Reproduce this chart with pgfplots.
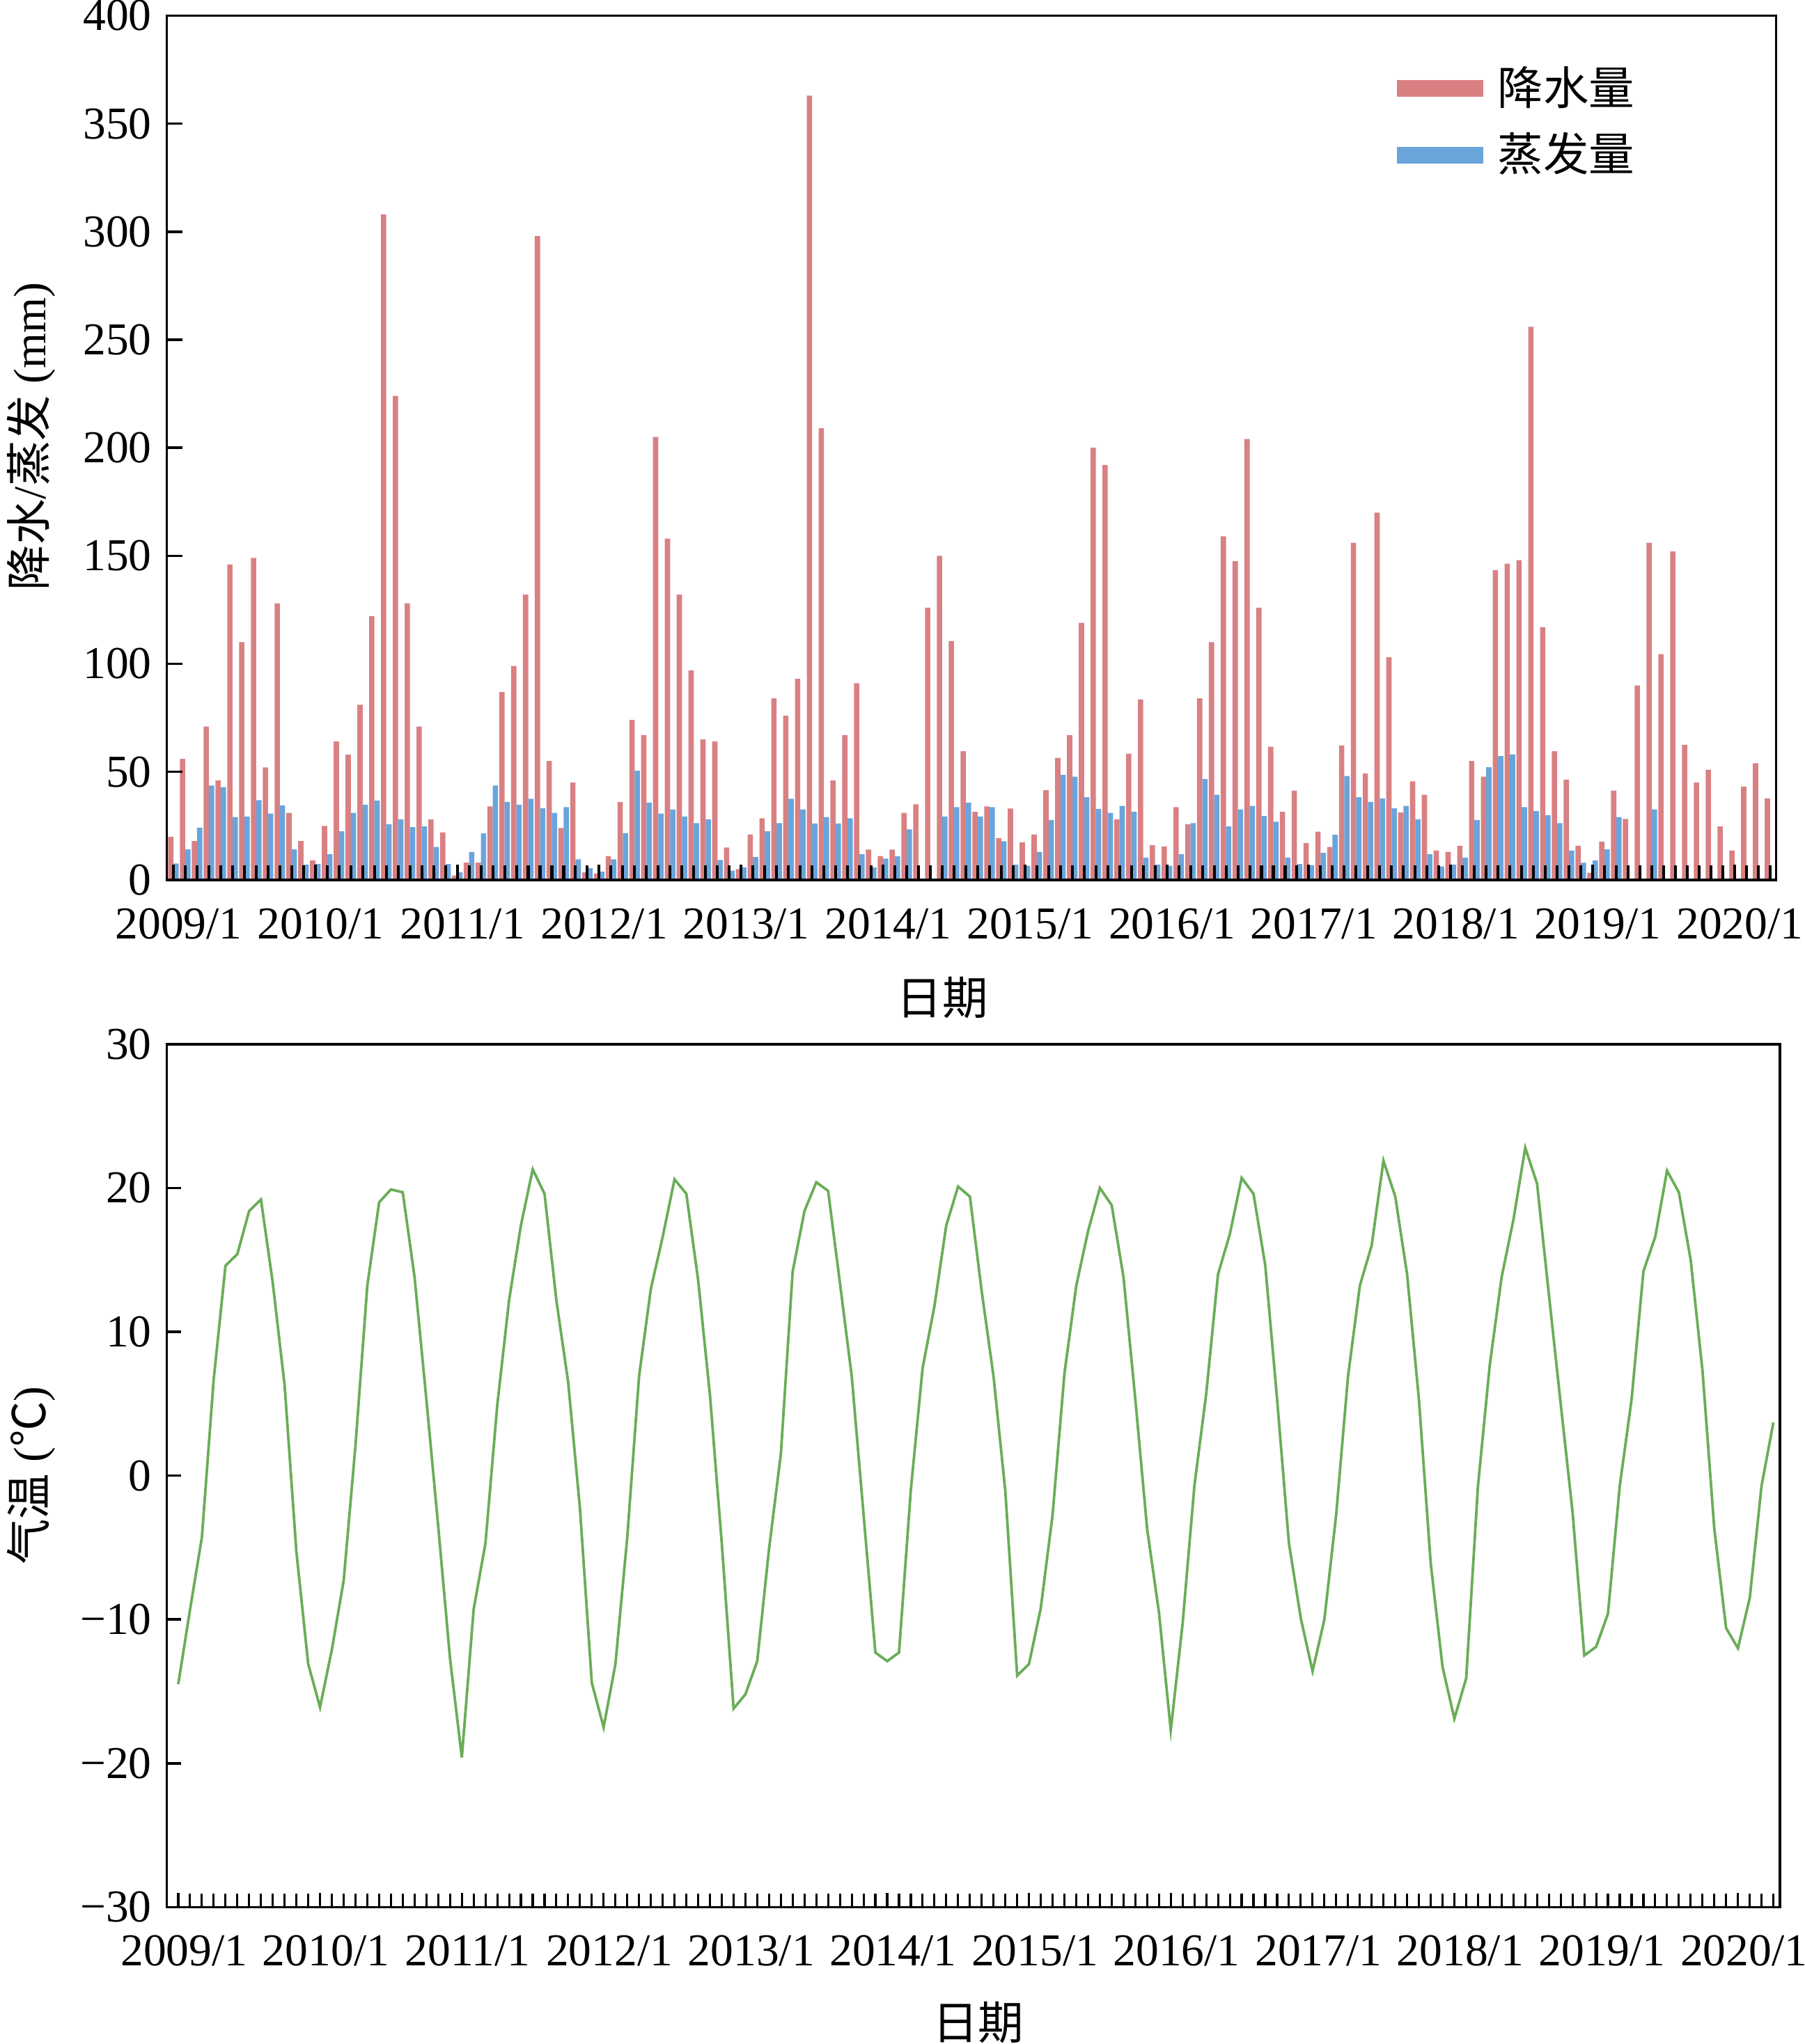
\documentclass[border=0pt]{standalone}
\usepackage{fontspec}
\setmainfont{Liberation Serif}
\newfontfamily\cjk{Noto Sans CJK SC}
\usepackage{pgfplots}
\usepackage{pgfplotstable}
\pgfplotsset{compat=1.18}
\definecolor{rainc}{RGB}{217,128,131}
\definecolor{evapc}{RGB}{106,164,219}
\definecolor{tempc}{RGB}{106,173,88}

\pgfplotstableread{
m v
0 20
1 56
2 18
3 71
4 46
5 146
6 110
7 149
8 52
9 128
10 31
11 18
12 9
13 25
14 64
15 58
16 81
17 122
18 308
19 224
20 128
21 71
22 28
23 22
24 2
25 8
26 8
27 34
28 87
29 99
30 132
31 298
32 55
33 24
34 45
35 3.5
36 3
37 11
38 36
39 74
40 67
41 205
42 158
43 132
44 97
45 65
46 64
47 15
48 5
49 21
50 28.5
51 84
52 76
53 93
54 363
55 209
56 46
57 67
58 91
59 14
60 11
61 14
62 31
63 35
64 126
65 150
66 110.5
67 59.5
68 31.5
69 34
70 19.3
71 33
72 17.4
73 21
74 41.5
75 56.5
76 67
77 119
78 200
79 192
80 28
81 58.4
82 83.5
83 16
84 15.5
85 33.7
86 25.8
87 84
88 110
89 159
90 147.5
91 204
92 126
93 61.6
94 31.5
95 41.3
96 17.1
97 22.3
98 15.2
99 62.2
100 156
101 49.2
102 170
103 103
104 31.2
105 45.6
106 39.4
107 13.6
108 13
109 15.8
110 55
111 47.8
112 143.4
113 146.4
114 148
115 256
116 117
117 59.5
118 46.4
119 15.8
120 3.3
121 17.7
122 41.3
123 28.2
124 90
125 156
126 104.5
127 152
128 62.5
129 45
130 51
131 24.7
132 13.6
133 43.2
134 54
135 37.7
}\rain

\pgfplotstableread{
m v
0 7.6
1 14.1
2 24.2
3 43.7
4 42.9
5 29.1
6 29.3
7 36.9
8 30.7
9 34.5
10 14.1
11 7.1
12 7.3
13 11.9
14 22.5
15 31
16 34.8
17 36.7
18 25.8
19 28
20 24.4
21 24.7
22 15.2
23 7.3
24 3.5
25 13
26 21.5
27 43.7
28 36.1
29 34.8
30 37.5
31 33.1
32 31
33 33.7
34 9.5
35 5.4
36 3.8
37 9.5
38 21.7
39 50.5
40 35.8
41 30.7
42 32.6
43 29.3
44 26.3
45 28
46 9.2
47 4.3
48 5.7
49 10.6
50 22.5
51 26.3
52 37.5
53 32.6
54 26.1
55 29.1
56 26.1
57 28.5
58 11.9
59 5.7
60 9.8
61 10.9
62 23.4
65 29.3
66 33.7
67 35.8
68 29.3
69 33.7
70 17.9
71 7.1
72 6.5
73 13
74 27.7
75 48.6
76 47.8
77 38.3
78 32.9
79 31
80 34.2
81 31.5
82 10.3
83 7.1
84 6.5
85 11.9
86 26.3
87 46.7
88 39.4
89 24.7
90 32.6
91 34.2
92 29.6
93 26.9
94 10.3
95 7.3
96 6.8
97 12.5
98 20.9
99 48.1
100 38.3
101 36.1
102 37.7
103 33.1
104 34.2
105 28
106 11.9
107 6.2
108 7.1
109 10.3
110 27.7
111 52.1
112 57.3
113 58.1
114 33.7
115 31.8
116 29.9
117 26.3
118 13.6
119 7.9
120 9
121 14.1
122 29.1
125 32.6
}\evap

\pgfplotstableread{
m t
0 -14.5
1 -9.3
2 -4.3
3 6.7
4 14.6
5 15.4
6 18.4
7 19.2
8 13.4
9 6.3
10 -5.3
11 -13.1
12 -16.1
13 -12.1
14 -7.3
15 2.1
16 13.2
17 19.0
18 19.9
19 19.7
20 13.8
21 5.3
22 -3.5
23 -12.7
24 -19.6
25 -9.3
26 -4.7
27 4.9
28 12.2
29 17.4
30 21.3
31 19.6
32 12.2
33 6.5
34 -2.3
35 -14.4
36 -17.5
37 -13.1
38 -4.3
39 6.9
40 13.0
41 16.6
42 20.6
43 19.6
44 13.6
45 5.6
46 -4.7
47 -16.2
48 -15.2
49 -12.9
50 -5.1
51 1.5
52 14.2
53 18.4
54 20.4
55 19.8
56 13.4
57 6.9
58 -2.7
59 -12.3
60 -12.9
61 -12.3
62 -1
63 7.5
64 11.8
65 17.4
66 20.1
67 19.4
68 12.8
69 6.9
70 -1.1
71 -13.9
72 -13.1
73 -9.2
74 -2.7
75 7.1
76 13.2
77 17.0
78 20.0
79 18.8
80 13.8
81 5.3
82 -3.7
83 -9.5
84 -17.7
85 -10.3
86 -0.7
87 5.7
88 14.0
89 16.8
90 20.7
91 19.6
92 14.6
93 5.3
94 -4.7
95 -9.9
96 -13.6
97 -10.0
98 -2.7
99 6.9
100 13.2
101 16.0
102 21.9
103 19.4
104 14.0
105 5.3
106 -6.1
107 -13.3
108 -16.9
109 -14.1
110 -0.7
111 7.7
112 13.8
113 17.8
114 22.8
115 20.3
116 12.6
117 5.0
118 -2.5
119 -12.5
120 -11.9
121 -9.6
122 -0.7
123 5.3
124 14.2
125 16.6
126 21.2
127 19.7
128 15.0
129 7.3
130 -3.7
131 -10.6
132 -12.0
133 -8.5
134 -0.7
135 3.7
}\temp

\begin{document}
\begin{tikzpicture}[font=\fontsize{10.5}{12.6}\selectfont]
\useasboundingbox (0,0) rectangle (415.2pt,470.4pt);
\begin{axis}[
  scale only axis, width=370.2pt, height=198.9pt,
  at={(38.4pt,267.9pt)}, anchor=south west,
  xmin=-0.55, xmax=135.5, ymin=0, ymax=400,
  axis line style={line width=0.55pt},
  axis on top,
  ybar=0pt, bar width=1.22pt,
  xtick={0,12,...,144},
  xticklabels={2009/1,2010/1,2011/1,2012/1,2013/1,2014/1,2015/1,2016/1,2017/1,2018/1,2019/1,2020/1,2021/1},
  minor x tick num=11,
  xtick pos=left, ytick pos=left,
  tick align=inside,
  ytick={0,50,...,400},
  yticklabels={0,50,100,150,200,250,300,350,400},
  major tick length=3.5pt, minor tick length=3.4pt,
  x tick style={line width=0.65pt, black},
  y tick style={line width=0.55pt, black},
  xticklabel style={xshift=1.2pt, yshift=-3pt},
  xlabel={\cjk 日期},
  xlabel style={at={(axis description cs:0.482,-0.136)}, anchor=center},
  ylabel={{\cjk 降水}/{\cjk 蒸发} (mm)},
  ylabel style={at={(axis description cs:-0.0843,0.513)}, anchor=center},
  legend style={draw=none, fill=none, at={(0.756,0.877)}, anchor=west,
    row sep=5.0pt, font=\cjk\fontsize{10.5}{12.6}\selectfont,
    nodes={inner ysep=0pt, inner xsep=3.3pt}},
  legend cell align=left,
  legend image code/.code={\fill (0pt,-1.9pt) rectangle (19.8pt,1.9pt);},
]
\addplot[fill=rainc, draw=none] table[x=m, y=v] {\rain};
\addplot[fill=evapc, draw=none] table[x=m, y=v] {\evap};
\legend{降水量,蒸发量}
\end{axis}

\begin{axis}[
  scale only axis, width=371.1pt, height=198.6pt,
  at={(38.4pt,31.5pt)}, anchor=south west,
  xmin=-0.96, xmax=135.55, ymin=-30, ymax=30,
  axis line style={line width=0.55pt},
  axis on top,
  xtick={0,12,...,144},
  xticklabels={2009/1,2010/1,2011/1,2012/1,2013/1,2014/1,2015/1,2016/1,2017/1,2018/1,2019/1,2020/1,2021/1},
  minor x tick num=11,
  xtick pos=left, ytick pos=left,
  tick align=inside,
  ytick={-30,-20,...,30},
  yticklabels={−30,−20,−10,0,10,20,30},
  major tick length=3.2pt, minor tick length=3.05pt,
  x tick style={line width=0.5pt, black},
  y tick style={line width=0.55pt, black},
  xticklabel style={xshift=1.35pt, yshift=-3pt},
  xlabel={\cjk 日期},
  xlabel style={at={(axis description cs:0.503,-0.134)}, anchor=center},
  ylabel={{\cjk 气温} ({\cjk ℃})},
  ylabel style={at={(axis description cs:-0.084,0.5)}, anchor=center},
]
\addplot[tempc, line width=0.6pt, mark=none] table[x=m, y=t] {\temp};
\end{axis}
\end{tikzpicture}
\end{document}
